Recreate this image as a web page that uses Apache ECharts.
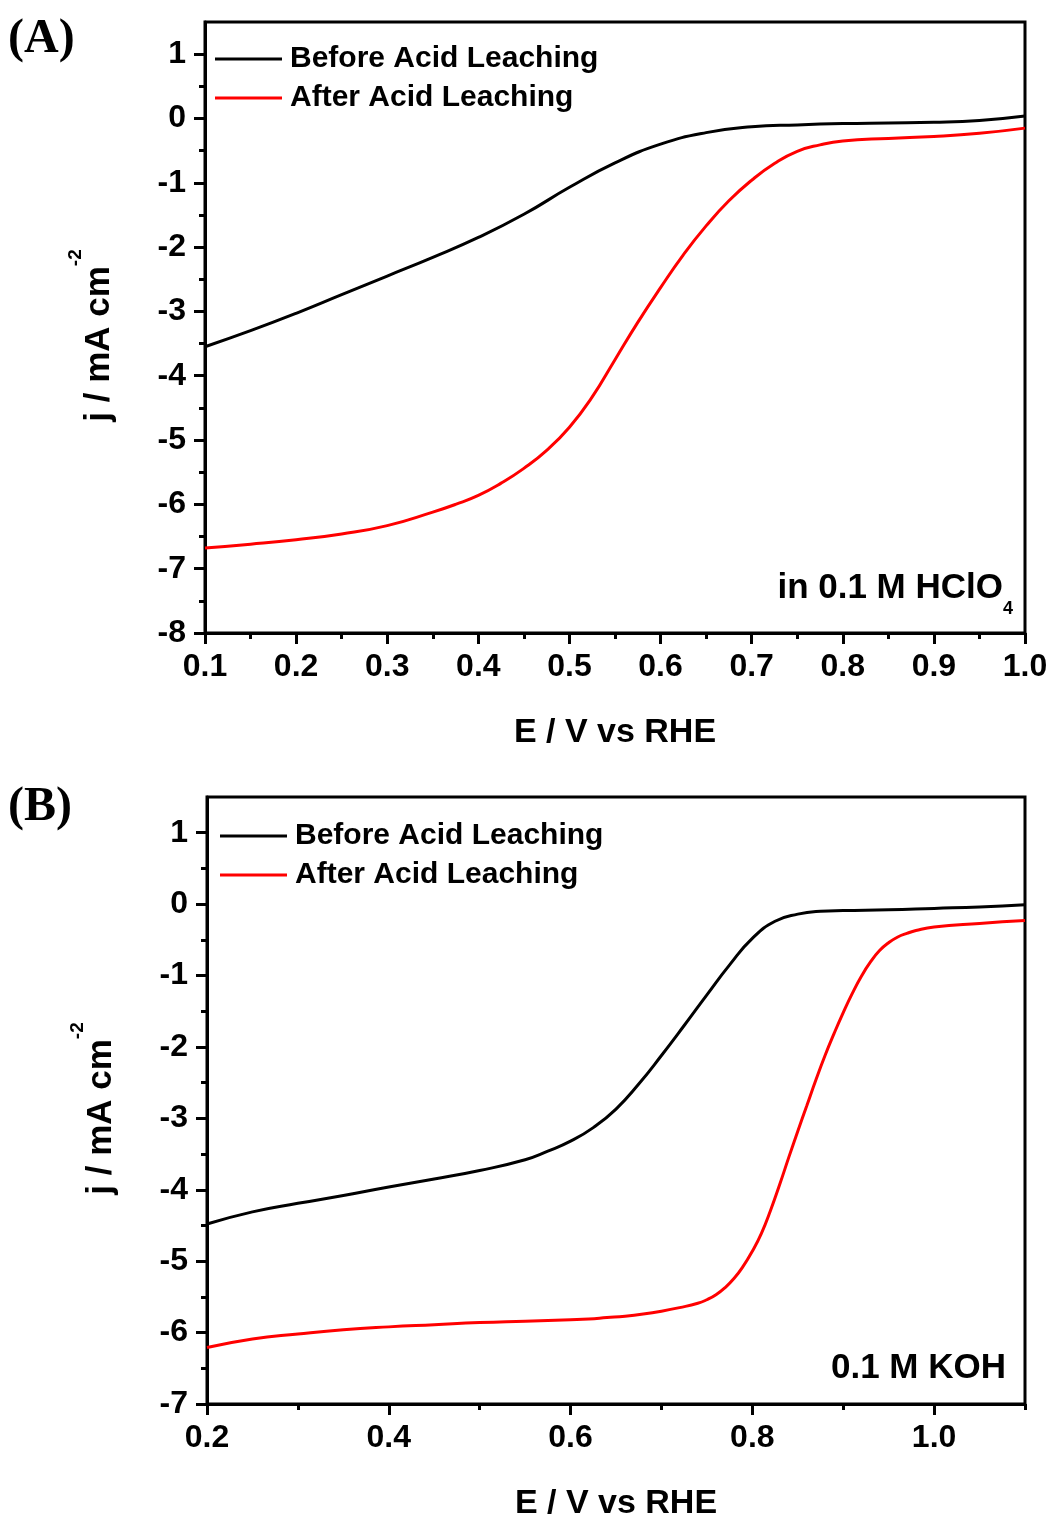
<!DOCTYPE html>
<html lang="en">
<head>
<meta charset="utf-8">
<title>LSV before / after acid leaching</title>
<script src="https://cdn.jsdelivr.net/npm/echarts@6/dist/echarts.min.js"></script>
<style>
  html, body { margin: 0; padding: 0; background: #fff; }
  #main { width: 1054px; height: 1522px; }
</style>
</head>
<body>
<div id="main"></div>
<script>
// (A) in 0.1 M HClO4
var eAbefore = [0.10, 0.15, 0.20, 0.25, 0.30, 0.35, 0.40, 0.45, 0.50, 0.55, 0.60, 0.65, 0.70, 0.75, 0.80, 0.85, 0.90, 0.95, 1.00];
var beforeA  = [-3.55, -3.30, -3.03, -2.74, -2.45, -2.16, -1.85, -1.49, -1.07, -0.69, -0.40, -0.22, -0.13, -0.10, -0.08, -0.07, -0.06, -0.03, 0.04];
var eAafter  = [0.10, 0.15, 0.20, 0.25, 0.30, 0.35, 0.375, 0.40, 0.425, 0.45, 0.475, 0.50, 0.525, 0.55, 0.575, 0.60, 0.625, 0.65, 0.675, 0.70, 0.725, 0.75, 0.775, 0.80, 0.85, 0.90, 0.95, 1.00];
var afterA   = [-6.68, -6.62, -6.55, -6.46, -6.33, -6.12, -6.00, -5.86, -5.67, -5.44, -5.16, -4.80, -4.33, -3.75, -3.17, -2.63, -2.12, -1.67, -1.28, -0.96, -0.70, -0.51, -0.41, -0.35, -0.31, -0.28, -0.23, -0.15];

// (B) 0.1 M KOH
var eBbefore = [0.20, 0.25, 0.30, 0.35, 0.40, 0.45, 0.50, 0.55, 0.575, 0.60, 0.625, 0.65, 0.675, 0.70, 0.725, 0.75, 0.775, 0.80, 0.825, 0.85, 0.875, 0.90, 0.95, 1.00, 1.05, 1.10];
var beforeB  = [-4.48, -4.31, -4.19, -4.08, -3.96, -3.85, -3.73, -3.58, -3.46, -3.32, -3.13, -2.87, -2.52, -2.12, -1.70, -1.27, -0.85, -0.48, -0.24, -0.14, -0.10, -0.09, -0.08, -0.06, -0.04, -0.01];
var eBafter  = [0.20, 0.25, 0.30, 0.35, 0.40, 0.45, 0.50, 0.55, 0.60, 0.62, 0.64, 0.66, 0.68, 0.70, 0.72, 0.74, 0.75, 0.76, 0.77, 0.78, 0.79, 0.80, 0.81, 0.82, 0.83, 0.84, 0.85, 0.86, 0.87, 0.88, 0.89, 0.90, 0.91, 0.92, 0.93, 0.94, 0.95, 0.96, 0.97, 0.98, 1.00, 1.05, 1.10];
var afterB   = [-6.21, -6.09, -6.02, -5.96, -5.92, -5.89, -5.86, -5.84, -5.82, -5.81, -5.79, -5.77, -5.74, -5.70, -5.65, -5.59, -5.54, -5.47, -5.37, -5.24, -5.07, -4.86, -4.61, -4.29, -3.93, -3.55, -3.18, -2.82, -2.46, -2.12, -1.81, -1.52, -1.25, -1.01, -0.81, -0.65, -0.54, -0.46, -0.41, -0.37, -0.32, -0.27, -0.23];

// ticks
var xTicksA = [0.1, 0.2, 0.3, 0.4, 0.5, 0.6, 0.7, 0.8, 0.9, 1.0];
var xMinorA = [0.15, 0.25, 0.35, 0.45, 0.55, 0.65, 0.75, 0.85, 0.95];
var yTicksA = [-8, -7, -6, -5, -4, -3, -2, -1, 0, 1];
var yMinorA = [-7.5, -6.5, -5.5, -4.5, -3.5, -2.5, -1.5, -0.5, 0.5];
var xTicksB = [0.2, 0.4, 0.6, 0.8, 1.0];
var xMinorB = [0.3, 0.5, 0.7, 0.9, 1.1];
var yTicksB = [-7, -6, -5, -4, -3, -2, -1, 0, 1];
var yMinorB = [-6.5, -5.5, -4.5, -3.5, -2.5, -1.5, -0.5, 0.5];

var names = ['Before Acid Leaching', 'After Acid Leaching'];

function zip(xs, ys) {
    var out = [];
    for (var i = 0; i < xs.length; i++) out.push([xs[i], ys[i]]);
    return out;
}

var font = 'Liberation Sans';
var lblStyle = { color: '#000', fontFamily: font, fontWeight: 'bold', fontSize: 32 };

function mainX(grid, min, max, ticks) {
    return {
        type: 'value', gridIndex: grid, min: min, max: max,
        name: 'E / V vs RHE', nameLocation: 'middle', nameGap: 83,
        nameTextStyle: { color: '#000', fontFamily: font, fontWeight: 'bold', fontSize: 34 },
        axisLine: { show: true, onZero: false, lineStyle: { color: '#000', width: 3 } },
        axisTick: { show: true, length: 11, lineStyle: { color: '#000', width: 3 }, customValues: ticks },
        axisLabel: Object.assign({ margin: 18, customValues: ticks, formatter: function (v) { return v.toFixed(1); } }, lblStyle),
        splitLine: { show: false }
    };
}
function minorX(grid, min, max, ticks) {
    return {
        type: 'value', gridIndex: grid, min: min, max: max, position: 'bottom',
        axisLine: { show: false, onZero: false },
        axisTick: { show: true, length: 6, lineStyle: { color: '#000', width: 3 }, customValues: ticks },
        axisLabel: { show: false },
        splitLine: { show: false }
    };
}
function mainY(grid, min, max, ticks) {
    return {
        type: 'value', gridIndex: grid, min: min, max: max,
        name: '{m|j / mA cm}{s|-2}', nameLocation: 'middle', nameGap: 73, nameRotate: 90,
        nameTextStyle: {
            rich: {
                m: { color: '#000', fontFamily: font, fontWeight: 'bold', fontSize: 35, lineHeight: 66 },
                s: { color: '#000', fontFamily: font, fontWeight: 'bold', fontSize: 19, lineHeight: 20, verticalAlign: 'top', padding: [0, 16, 0, 0] }
            }
        },
        axisLine: { show: true, onZero: false, lineStyle: { color: '#000', width: 3 } },
        axisTick: { show: true, length: 11, lineStyle: { color: '#000', width: 3 }, customValues: ticks },
        axisLabel: Object.assign({ margin: 19, customValues: ticks, formatter: function (v) { return String(v); } }, lblStyle),
        splitLine: { show: false }
    };
}
function minorY(grid, min, max, ticks) {
    return {
        type: 'value', gridIndex: grid, min: min, max: max, position: 'left',
        axisLine: { show: false, onZero: false },
        axisTick: { show: true, length: 6, lineStyle: { color: '#000', width: 3 }, customValues: ticks },
        axisLabel: { show: false },
        splitLine: { show: false }
    };
}
function legendAt(left, top) {
    return {
        data: names, orient: 'vertical', left: left, top: top, padding: 0,
        icon: 'rect', itemWidth: 67, itemHeight: 3, itemGap: 9, selectedMode: false,
        textStyle: { color: '#000', fontFamily: font, fontWeight: 'bold', fontSize: 30, lineHeight: 30, padding: [0, 0, 0, 3] }
    };
}
function line(name, data, color, xi, yi) {
    return {
        name: name, type: 'line', data: data, xAxisIndex: xi, yAxisIndex: yi,
        symbol: 'none', smooth: 0.5, silent: true,
        lineStyle: { color: color, width: 3 }, itemStyle: { color: color }
    };
}

var chart = echarts.init(document.getElementById('main'), null, { renderer: 'canvas' });
var option = {
    backgroundColor: '#fff',
    animation: false,
    grid: [
        { left: 205, top: 22, width: 820, height: 611, show: true, borderColor: '#000', borderWidth: 3, backgroundColor: 'transparent' },
        { left: 207, top: 797, width: 818, height: 611, show: true, borderColor: '#000', borderWidth: 3, backgroundColor: 'transparent' }
    ],
    legend: [legendAt(215, 44), legendAt(220, 821)],
    xAxis: [
        mainX(0, 0.1, 1.0, xTicksA), minorX(0, 0.1, 1.0, xMinorA),
        mainX(1, 0.2, 1.1, xTicksB), minorX(1, 0.2, 1.1, xMinorB)
    ],
    yAxis: [
        mainY(0, -8, 1.5, yTicksA), minorY(0, -8, 1.5, yMinorA),
        mainY(1, -7, 1.5, yTicksB), minorY(1, -7, 1.5, yMinorB)
    ],
    graphic: [
        { type: 'text', x: 8, y: 40, style: { text: '(A)', font: 'bold 48px "Liberation Serif"', fill: '#000', verticalAlign: 'middle' } },
        { type: 'text', x: 8, y: 808, style: { text: '(B)', font: 'bold 48px "Liberation Serif"', fill: '#000', verticalAlign: 'middle' } },
        { type: 'text', x: 1013, y: 588, style: {
            text: '{a|in 0.1 M HClO}{s|4}', align: 'right', verticalAlign: 'middle',
            rich: {
                a: { fill: '#000', fontFamily: font, fontWeight: 'bold', fontSize: 35, lineHeight: 60 },
                s: { fill: '#000', fontFamily: font, fontWeight: 'bold', fontSize: 18, lineHeight: 18, verticalAlign: 'bottom' }
            }
        } },
        { type: 'text', x: 1006, y: 1368, style: { text: '0.1 M KOH', font: 'bold 35px "Liberation Sans"', fill: '#000', align: 'right', verticalAlign: 'middle' } }
    ],
    series: [
        line(names[0], zip(eAbefore, beforeA), '#000000', 0, 0),
        line(names[1], zip(eAafter, afterA), '#ff0000', 0, 0),
        line(names[0], zip(eBbefore, beforeB), '#000000', 2, 2),
        line(names[1], zip(eBafter, afterB), '#ff0000', 2, 2)
    ]
};
chart.setOption(option);
window.onresize = chart.resize;
</script>
</body>
</html>
